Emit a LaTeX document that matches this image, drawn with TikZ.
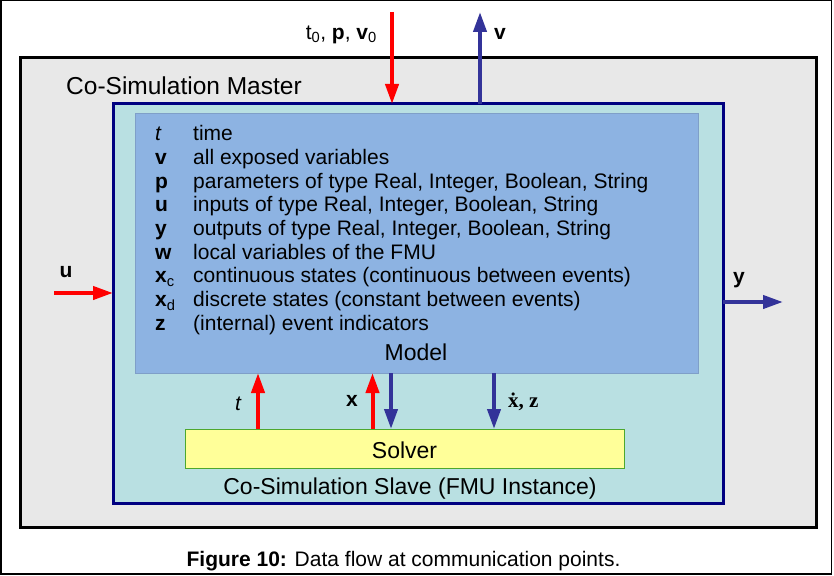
\documentclass[tikz,border=0pt]{standalone}
\usepackage{fontspec}
\setmainfont{Liberation Sans}
\newfontfamily\seriffont{Liberation Serif}
\usetikzlibrary{arrows.meta}
\definecolor{mastergray}{HTML}{E8E8E8}
\definecolor{slavecyan}{HTML}{B9E0E2}
\definecolor{slavenavy}{HTML}{000080}
\definecolor{modelblue}{HTML}{8DB3E2}
\definecolor{modeledge}{HTML}{7F9FC8}
\definecolor{solveryellow}{HTML}{FFFF99}
\definecolor{solvergreen}{HTML}{4EA72E}
\definecolor{arrred}{HTML}{FF0000}
\definecolor{arrblue}{HTML}{333399}
\begin{document}
\begin{tikzpicture}[x=1pt,y=-1pt,
  box/.style={anchor=north west,inner sep=0pt,outer sep=0pt},
  redarr/.style={draw=arrred,line width=4pt,-{Triangle[length=20pt,width=13pt]},arrred},
  bluearr/.style={draw=arrblue,line width=4pt,-{Triangle[length=20pt,width=13pt]},arrblue},
  lbl/.style={inner sep=0pt,anchor=base},
  bigtxt/.style={font=\fontsize{23}{27}\selectfont},
  midtxt/.style={font=\fontsize{21}{25}\selectfont}]
\useasboundingbox (0,0) rectangle (834,575);
\fill[white] (0,0) rectangle (834,575);
\draw[line width=1.5pt] (0.75,0.75) rectangle (831.5,574);
% boxes
\node[box,fill=mastergray,draw=black,line width=3pt,minimum width=796pt,minimum height=469pt] (master) at (20,58) {};
\node[box,fill=slavecyan,draw=slavenavy,line width=3pt,minimum width=610pt,minimum height=399pt] (slave) at (113,104) {};
\node[box,fill=modelblue,draw=modeledge,line width=1pt,minimum width=563pt,minimum height=260pt] (model) at (135,113) {};
\node[box,fill=solveryellow,draw=solvergreen,line width=1pt,minimum width=439pt,minimum height=39pt] (solver) at (185,429) {};
% titles
\node[lbl,anchor=base west,font=\fontsize{24.5}{28}\selectfont] (mastertitle) at (66,94.3) {Co-Simulation Master};
\node[lbl,bigtxt] (slavetitle) at (410,494) {Co-Simulation Slave (FMU Instance)};
\node[lbl,bigtxt] (modeltitle) at (416,360) {Model};
\node[lbl,bigtxt] (solvertitle) at (404.5,458) {Solver};
% variable list
\node[inner sep=0pt,anchor=base west] (varlist) at (155,140.7) {\fontsize{21}{23.7}\selectfont
\begin{tabular}[t]{@{}p{38pt}@{}l@{}}
\textit{t} & time\\
\textbf{v} & all exposed variables\\
\textbf{p} & parameters of type Real, Integer, Boolean, String\\
\textbf{u} & inputs of type Real, Integer, Boolean, String\\
\textbf{y} & outputs of type Real, Integer, Boolean, String\\
\textbf{w} & local variables of the FMU\\
\textbf{x}\textsubscript{c} & continuous states (continuous between events)\\
\textbf{x}\textsubscript{d} & discrete states (constant between events)\\
\textbf{z} & (internal) event indicators
\end{tabular}};
% top arrows
\coordinate (tin) at (392,12);
\coordinate (vout) at (480,12);
\draw[redarr] (tin) -- (tin |- slave.north);
\draw[bluearr] (vout |- slave.north) -- (vout);
\node[lbl,anchor=base east,midtxt] (tinlbl) at (377,39.3) {t\textsubscript{0}, \textbf{p}, \textbf{v}\textsubscript{0}};
\node[lbl,anchor=base west,midtxt] (voutlbl) at (494,39.3) {\textbf{v}};
% side arrows
\coordinate (uin) at (54,293);
\coordinate (yout) at (783,302);
\draw[redarr] (uin) -- (uin -| slave.west);
\draw[bluearr] (yout -| slave.east) -- (yout);
\node[lbl,anchor=base west,midtxt] (uinlbl) at (59.5,277) {\textbf{u}};
\node[lbl,anchor=base west,midtxt] (youtlbl) at (733,283) {\textbf{y}};
% model/solver arrows
\coordinate (ct) at (258,0);
\coordinate (cx) at (372.5,0);
\coordinate (cxd) at (391,0);
\coordinate (cz) at (494,0);
\draw[redarr] (solver.north -| ct) -- (model.south -| ct);
\draw[redarr] (solver.north -| cx) -- (model.south -| cx);
\draw[bluearr] (model.south -| cxd) -- (solver.north -| cxd);
\draw[bluearr] (model.south -| cz) -- (solver.north -| cz);
\node[lbl,anchor=base west,midtxt] (tlbl) at (235,410) {\textit{t}};
\node[lbl,anchor=base west,midtxt] (xlbl) at (346,406.7) {\textbf{x}};
\node[lbl,anchor=base west,font=\fontsize{21}{25}\selectfont\seriffont\bfseries] (xzlbl) at (508,407) {\.{x}, z};
% caption
\node[lbl,midtxt] (caption) at (403.5,566) {\textbf{Figure 10:} Data flow at communication points.};
\end{tikzpicture}
\end{document}
